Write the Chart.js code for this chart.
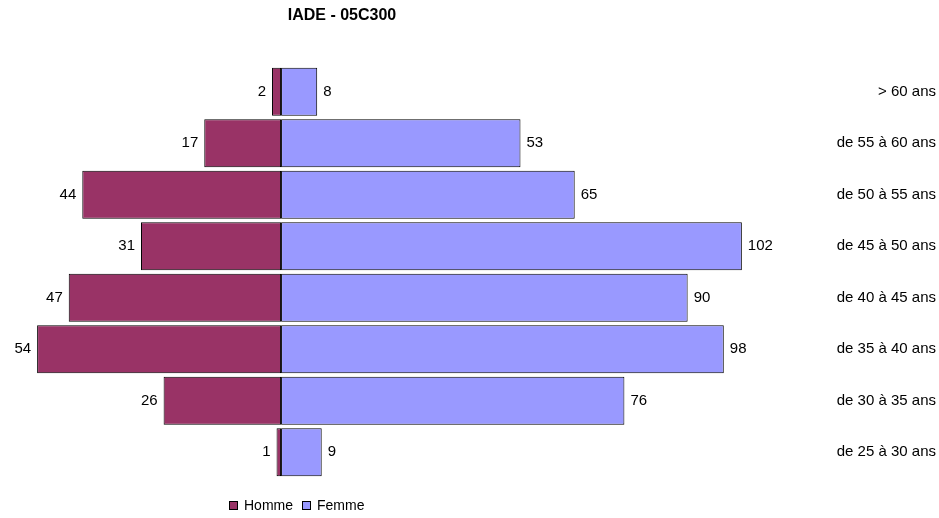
<!DOCTYPE html>
<html>
<head>
<meta charset="utf-8">
<script src="https://cdn.jsdelivr.net/npm/chart.js@4.4.0/dist/chart.umd.min.js"></script>
<style>
  html, body { margin: 0; padding: 0; background: #fff; }
  #wrap { position: relative; width: 939px; height: 518px; }
  #title {
    position: absolute; left: 0; width: 684px; top: 6px;
    text-align: center; font: bold 16px "Liberation Sans", Arial, sans-serif; color: #000;
  }
  #legend {
    position: absolute; left: 229px; top: 497px;
    font: 14px "Liberation Sans", Arial, sans-serif; color: #000; white-space: nowrap;
  }
  #legend span.box {
    display: inline-block; width: 7px; height: 7px; border: 1px solid #000;
    margin-right: 6px; vertical-align: 0px;
  }
</style>
</head>
<body>
<div id="wrap">
  <div id="title">IADE - 05C300</div>
  <canvas id="pyramid" width="939" height="518"></canvas>
  <div id="legend"><span class="box" style="background:#993366"></span>Homme<span class="box" style="background:#9999ff;margin-left:9px"></span>Femme</div>
</div>
<script>
/* Age groups, top to bottom */
const AGE_GROUPS = [
  "> 60 ans",
  "de 55 à 60 ans",
  "de 50 à 55 ans",
  "de 45 à 50 ans",
  "de 40 à 45 ans",
  "de 35 à 40 ans",
  "de 30 à 35 ans",
  "de 25 à 30 ans",
];
const HOMME = [2, 17, 44, 31, 47, 54, 26, 1];
const FEMME = [8, 53, 65, 102, 90, 98, 76, 9];

const FONT = { family: "'Liberation Sans', Arial, sans-serif", size: 15 };

/**
 * Writes the count next to the outer end of each bar.
 */
const valueLabels = {
  id: "valueLabels",
  afterDatasetsDraw(chart) {
    const ctx = chart.ctx;
    ctx.save();
    ctx.font = FONT.size + "px " + FONT.family;
    ctx.fillStyle = "#000";
    ctx.textBaseline = "middle";
    chart.data.datasets.forEach((ds, i) => {
      const meta = chart.getDatasetMeta(i);
      meta.data.forEach((bar, j) => {
        const left = i === 0;
        ctx.textAlign = left ? "right" : "left";
        const x = left ? bar.x - 6 : bar.x + 6;
        ctx.fillText(String(ds.origValues[j]), x, bar.y);
      });
    });
    ctx.restore();
  },
};

function initPyramid() {
  const ctx = document.getElementById("pyramid");
  new Chart(ctx, {
    type: "bar",
    data: {
      labels: AGE_GROUPS,
      datasets: [
        {
          label: "Homme",
          data: HOMME.map((v) => -v),
          origValues: HOMME,
          backgroundColor: "#993366",
          borderColor: "#000",
          borderWidth: 1,
          borderSkipped: false,
          categoryPercentage: 1,
          barPercentage: 0.93,
        },
        {
          label: "Femme",
          data: FEMME,
          origValues: FEMME,
          backgroundColor: "#9999ff",
          borderColor: "#000",
          borderWidth: 1,
          borderSkipped: false,
          categoryPercentage: 1,
          barPercentage: 0.93,
        },
      ],
    },
    options: {
      indexAxis: "y",
      responsive: false,
      animation: false,
      layout: { padding: { left: 10, right: 3, top: 66, bottom: 40 } },
      plugins: {
        legend: { display: false },
        title: { display: false },
        tooltip: { enabled: false },
      },
      scales: {
        x: {
          stacked: true,
          display: false,
          min: -60,
          max: 110,
        },
        y: {
          stacked: true,
          position: "right",
          grid: { display: false },
          border: { display: false },
          ticks: {
            color: "#000",
            font: FONT,
            crossAlign: "far",
            padding: 0,
          },
          afterFit(scale) {
            scale.width = 158;
          },
        },
      },
    },
    plugins: [valueLabels],
  });
}

initPyramid();
</script>
</body>
</html>
